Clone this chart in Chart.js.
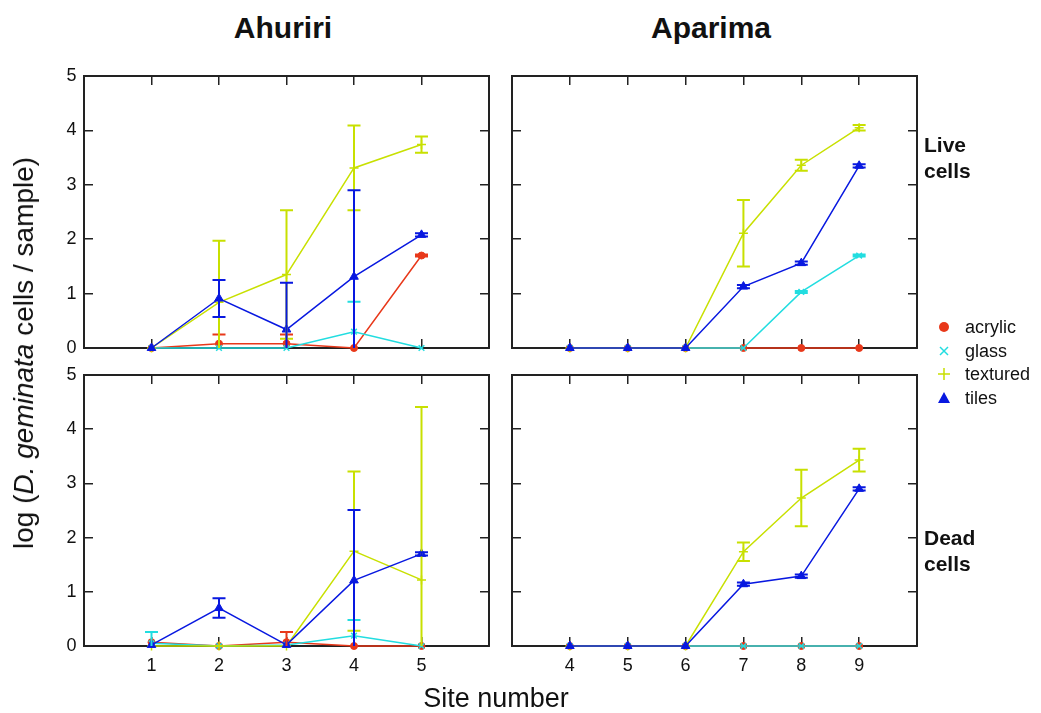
<!DOCTYPE html>
<html><head><meta charset="utf-8">
<script src="https://cdn.jsdelivr.net/npm/chart.js@4/dist/chart.umd.min.js"></script>
<style>
body{margin:0;background:#fff;width:1041px;height:713px;position:relative;overflow:hidden;font-family:"Liberation Sans",Arial,sans-serif;color:#111}
canvas{position:absolute}
.t{position:absolute;white-space:nowrap;transform:translate(-50%,-50%)}
.lg{position:absolute;left:932px;font-size:18px;line-height:24px}
.lg div{position:relative;height:23.5px;padding-left:33px}
.lg svg{position:absolute;left:3px;top:3px}
</style></head><body>
<canvas id="c1"></canvas><canvas id="c2"></canvas><canvas id="c3"></canvas><canvas id="c4"></canvas>
<div class="t" style="left:283px;top:28px;font-size:30px;font-weight:bold">Ahuriri</div>
<div class="t" style="left:711px;top:28px;font-size:30px;font-weight:bold">Aparima</div>
<div class="t" style="left:24px;top:353px;font-size:28px;transform:translate(-50%,-50%) rotate(-90deg)">log (<i>D. geminata</i> cells / sample)</div>
<div class="t" style="left:496px;top:698px;font-size:27px">Site number</div>
<div style="position:absolute;left:924px;top:132px;font-size:21px;font-weight:bold;line-height:26px">Live<br>cells</div>
<div style="position:absolute;left:924px;top:525px;font-size:21px;font-weight:bold;line-height:26px">Dead<br>cells</div>
<div class="lg" style="top:315px">
 <div><svg width="18" height="18"><circle cx="9" cy="9" r="5" fill="#e8381a"/></svg>acrylic</div>
 <div><svg width="18" height="18"><path d="M5 5L13 13M13 5L5 13" stroke="#22dde0" stroke-width="1.5"/></svg>glass</div>
 <div><svg width="18" height="18"><path d="M9 3V15M3 9H15" stroke="#c8e000" stroke-width="1.5"/></svg>textured</div>
 <div><svg width="18" height="18"><path d="M9 3L15 14H3Z" fill="#0818e0"/></svg>tiles</div>
</div>
<script>
const seriesNames=['acrylic','glass','textured','tiles'];
const seriesColors=['#e8381a','#22dde0','#c8e000','#0818e0'];
const seriesMarkers=['circle','crossRot','cross','triangle'];
const sitesAhuriri=[1,2,3,4,5];
const sitesAparima=[4,5,6,7,8,9];
const yTicks=[0,1,2,3,4,5];

// Live cells, Ahuriri
const liveAhuAcrylic=[0,0.08,0.08,0,1.70];   const liveAhuAcrylicErr=[0,0.17,0.17,0,0.02];
const liveAhuGlass=[0,0,0,0.30,0];           const liveAhuGlassErr=[0,0,0,0.55,0];
const liveAhuTextured=[0,0.84,1.35,3.31,3.74]; const liveAhuTexturedErr=[0,1.13,1.18,0.78,0.15];
const liveAhuTiles=[0,0.91,0.34,1.31,2.08];  const liveAhuTilesErr=[0,0.34,0.86,1.59,0.03];
// Live cells, Aparima
const liveApaAcrylic=[0,0,0,0,0,0];          const liveApaAcrylicErr=[0,0,0,0,0,0];
const liveApaGlass=[0,0,0,0,1.03,1.70];      const liveApaGlassErr=[0,0,0,0,0.02,0.02];
const liveApaTextured=[0,0,0,2.11,3.36,4.05]; const liveApaTexturedErr=[0,0,0,0.61,0.10,0.05];
const liveApaTiles=[0,0,0,1.13,1.56,3.35];   const liveApaTilesErr=[0,0,0,0.03,0.03,0.03];
// Dead cells, Ahuriri
const deadAhuAcrylic=[0.07,0,0.07,0,0];      const deadAhuAcrylicErr=[0,0,0.19,0,0];
const deadAhuGlass=[0.05,0,0.02,0.19,0];     const deadAhuGlassErr=[0.21,0,0,0.29,0];
const deadAhuTextured=[0,0,0,1.75,1.22];     const deadAhuTexturedErr=[0,0,0,1.47,3.19];
const deadAhuTiles=[0.02,0.70,0.02,1.21,1.70]; const deadAhuTilesErr=[0,0.18,0,1.30,0.03];
// Dead cells, Aparima
const deadApaAcrylic=[0,0,0,0,0,0];          const deadApaAcrylicErr=[0,0,0,0,0,0];
const deadApaGlass=[0,0,0,0,0,0];            const deadApaGlassErr=[0,0,0,0,0,0];
const deadApaTextured=[0,0,0,1.74,2.73,3.43]; const deadApaTexturedErr=[0,0,0,0.17,0.52,0.21];
const deadApaTiles=[0,0,0,1.14,1.29,2.90];   const deadApaTilesErr=[0,0,0,0.03,0.03,0.03];

const FONT='"Liberation Sans", Arial, sans-serif';
Chart.defaults.font.family=FONT;
const AX='#222';

const errorBarPlugin={id:'errbars',afterDatasetsDraw(chart){
  const {ctx,chartArea:a,scales}=chart; const x=scales.x,y=scales.y;
  ctx.save(); ctx.beginPath(); ctx.rect(a.left,a.top,a.right-a.left,a.bottom-a.top); ctx.clip();
  chart.data.datasets.forEach(ds=>{
    const errs=ds.errorBars; if(!errs) return;
    ctx.strokeStyle=ds.borderColor; ctx.lineWidth=2;
    ds.data.forEach((p,i)=>{const e=errs[i]; if(!e) return;
      const px=x.getPixelForValue(p.x),hi=y.getPixelForValue(p.y+e),lo=y.getPixelForValue(p.y-e);
      ctx.beginPath(); ctx.moveTo(px,hi); ctx.lineTo(px,lo);
      ctx.moveTo(px-6.5,hi); ctx.lineTo(px+6.5,hi);
      ctx.moveTo(px-6.5,lo); ctx.lineTo(px+6.5,lo); ctx.stroke();
    });
  });
  ctx.restore();
}};

function makePanel(id,frame,sites,xMin,xMax,vals,errs,showX,showY){
  const M={l:60,r:20,t:30,b:40};
  const cv=document.getElementById(id);
  const W=frame.w+M.l+M.r,H=frame.h+M.t+M.b;
  cv.width=W;cv.height=H;cv.style.width=W+'px';cv.style.height=H+'px';
  cv.style.left=(frame.x-M.l)+'px';cv.style.top=(frame.y-M.t)+'px';
  const datasets=seriesNames.map((n,k)=>({
    label:n,data:sites.map((s,i)=>({x:s,y:vals[k][i]})),errorBars:errs[k],
    borderColor:seriesColors[k],backgroundColor:seriesColors[k],borderWidth:1.5,
    pointStyle:seriesMarkers[k],pointRadius:[3.5,4,4.5,5][k],pointBorderWidth:[1,1.5,1.5,1][k],
    pointBackgroundColor:seriesColors[k],pointBorderColor:seriesColors[k],
    tension:0,clip:false,order:4-k
  }));
  const grid={drawOnChartArea:false,tickLength:-9,color:AX,tickColor:AX,lineWidth:1.5,tickWidth:1.5};
  const border={display:true,color:AX,width:2};
  const tickFont={size:18,family:FONT};
  new Chart(cv,{type:'line',data:{datasets},plugins:[errorBarPlugin],options:{
    responsive:false,animation:false,events:[],
    layout:{padding:0},
    plugins:{legend:{display:false},tooltip:{enabled:false}},
    scales:{
      x:{type:'linear',position:'bottom',min:xMin,max:xMax,
        ticks:{stepSize:1,display:showX,padding:18,font:tickFont,color:'#111',autoSkip:false,maxRotation:0,
          callback:v=>sites.includes(v)?String(v):''},
        grid,border,afterFit:s=>{s.height=M.b}},
      x2:{type:'linear',position:'top',min:xMin,max:xMax,ticks:{stepSize:1,display:false},
        grid,border,afterFit:s=>{s.height=M.t}},
      y:{type:'linear',position:'left',min:0,max:5,
        ticks:{stepSize:1,display:showY,padding:16.5,font:tickFont,color:'#111',
          callback:v=>yTicks.includes(v)?String(v):''},
        grid,border,afterFit:s=>{s.width=M.l}},
      y2:{type:'linear',position:'right',min:0,max:5,ticks:{stepSize:1,display:false},
        grid,border,afterFit:s=>{s.width=M.r}}
    }}});
}

makePanel('c1',{x:84,y:76,w:405,h:272},sitesAhuriri,0,6,
  [liveAhuAcrylic,liveAhuGlass,liveAhuTextured,liveAhuTiles],
  [liveAhuAcrylicErr,liveAhuGlassErr,liveAhuTexturedErr,liveAhuTilesErr],false,true);
makePanel('c2',{x:512,y:76,w:405,h:272},sitesAparima,3,10,
  [liveApaAcrylic,liveApaGlass,liveApaTextured,liveApaTiles],
  [liveApaAcrylicErr,liveApaGlassErr,liveApaTexturedErr,liveApaTilesErr],false,false);
makePanel('c3',{x:84,y:375,w:405,h:271},sitesAhuriri,0,6,
  [deadAhuAcrylic,deadAhuGlass,deadAhuTextured,deadAhuTiles],
  [deadAhuAcrylicErr,deadAhuGlassErr,deadAhuTexturedErr,deadAhuTilesErr],true,true);
makePanel('c4',{x:512,y:375,w:405,h:271},sitesAparima,3,10,
  [deadApaAcrylic,deadApaGlass,deadApaTextured,deadApaTiles],
  [deadApaAcrylicErr,deadApaGlassErr,deadApaTexturedErr,deadApaTilesErr],true,false);
</script>
</body></html>
